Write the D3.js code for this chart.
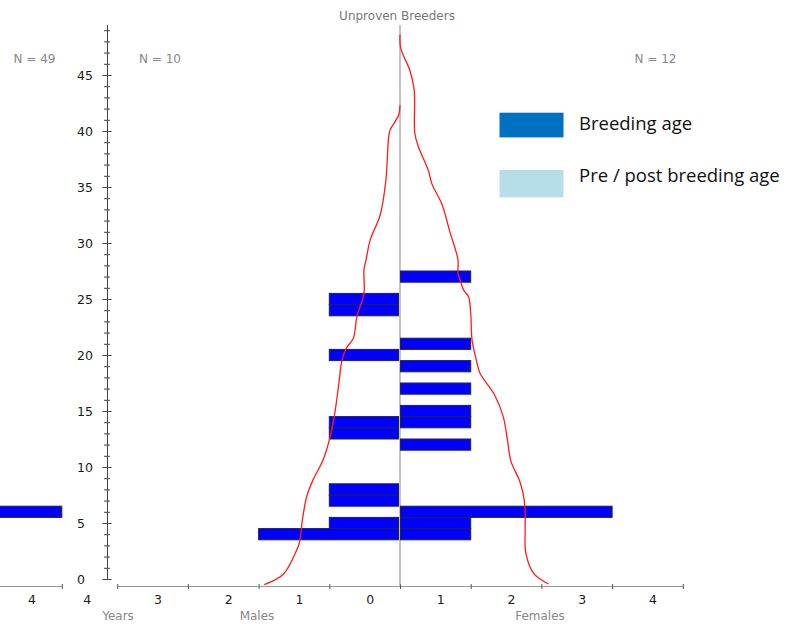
<!DOCTYPE html>
<html>
<head>
<meta charset="utf-8">
<script src="https://cdn.jsdelivr.net/npm/d3@7"></script>
<style>
body { margin: 0; background: #fff; }
svg text { font-family: "DejaVu Sans", Verdana, sans-serif; }
</style>
</head>
<body>
<svg></svg>
<script>
// bars: age (years) and number of animals of that age
var maleAges = [4, 5, 7, 8, 13, 14, 20, 24, 25];
var maleCounts = [2, 1, 1, 1, 1, 1, 1, 1, 1];
var femaleAges = [4, 5, 6, 12, 14, 15, 17, 19, 21, 27];
var femaleCounts = [1, 1, 3, 1, 1, 1, 1, 1, 1, 1];

// neighbouring panel on the left, only its female edge is in view
var prevFemaleAges = [6];
var prevFemaleCounts = [4];

// red reference curves (age, value)
var maleCurveAge = [-0.5, 0.42, 2.6, 3.3, 5.3, 7.35, 8.85, 10.6, 12.4, 14.5, 17.2, 19.55, 20.6, 21.5, 23.4, 25.5, 27.6, 28.5, 30.3, 32.5, 35.6, 39.5, 40.1, 41.4, 42.3];
var maleCurveValue = [1.92, 1.65, 1.46, 1.42, 1.38, 1.32, 1.23, 1.09, 1.0, 0.93, 0.87, 0.82, 0.76, 0.66, 0.61, 0.51, 0.51, 0.48, 0.42, 0.28, 0.2, 0.16, 0.14, 0.02, 0];
var femaleCurveAge = [48.6, 47.4, 45.4, 43.7, 39.8, 38.6, 36.5, 35.3, 33.5, 30.9, 28.5, 27.3, 26.7, 25.8, 25.2, 23.7, 21.3, 19.55, 18.4, 16.4, 14.5, 12.4, 10.5, 8.8, 7.65, 6.2, 4.4, 2.3, 0.5, -0.45];
var femaleCurveValue = [0, 0.01, 0.14, 0.2, 0.21, 0.26, 0.4, 0.45, 0.59, 0.71, 0.82, 0.82, 0.85, 0.9, 0.97, 1.0, 1.02, 1.08, 1.13, 1.34, 1.46, 1.52, 1.57, 1.69, 1.74, 1.77, 1.77, 1.78, 1.89, 2.1];

var yTicks = [0, 5, 10, 15, 20, 25, 30, 35, 40, 45];
var xTicks = [0, 1, 2, 3, 4];
var maleTickLabels = ["0", "1", "2", "3", "4"];
var femaleTickLabels = ["1", "2", "3", "4"];
var nLabels = ["N = 10", "N = 12"];
var prevNLabel = "N = 49";
var title = "Unproven Breeders";

var legendLabels = ["Breeding age", "Pre / post breeding age"];
var legendColors = ["#0070c0", "#b7dee8"];

var svgWidth = 796, svgHeight = 624;
var unit = 70.7;          // px per animal
var axisY = 586;
var mainCenter = 400, prevCenter = -221;

var svg = d3.select("svg")
    .attr("width", svgWidth)
    .attr("height", svgHeight);

var y = d3.scaleLinear()
    .domain([0, 49.5])
    .range([579, 24.6]);

function sideScale(cx, dir, n) {
    n = n || 4;
    return d3.scaleLinear()
        .domain([0, n])
        .range([cx, cx + dir * n * unit]);
}

var xMale = sideScale(mainCenter, -1);
var xFemale = sideScale(mainCenter, 1);
var xPrevFemale = sideScale(prevCenter, 1);

// x axes
function drawXAxis(scale) {
    var g = svg.append("g")
        .attr("transform", "translate(0," + axisY + ")")
        .call(d3.axisBottom(scale).tickValues(xTicks).tickFormat("").tickSize(3).tickSizeOuter(0));
    g.select(".domain").attr("stroke", "#999");
    g.selectAll(".tick line").attr("stroke", "#555").attr("y1", -2);
    return g;
}
drawXAxis(xMale);
drawXAxis(xFemale);
drawXAxis(xPrevFemale);

function drawTickLabels(scale, labels) {
    var pos = function(i) { return (scale(i) + scale(i + 1)) / 2 + 5.5; };
    svg.append("g").selectAll("text")
        .data(labels.filter(function(d, i) { return pos(i) > 8; }))
        .enter()
        .append("text")
        .attr("x", function(d) { return pos(labels.indexOf(d)); })
        .attr("y", 604)
        .attr("text-anchor", "middle")
        .attr("font-size", "12.5px")
        .attr("fill", "#1a1a1a")
        .text(function(d) { return d; });
}
drawTickLabels(sideScale(mainCenter, -1, 5), maleTickLabels);
drawTickLabels(xFemale, femaleTickLabels);
drawTickLabels(xPrevFemale, femaleTickLabels);

// axis titles
var axisTitles = [["Years", 118], ["Males", 257], ["Females", 540]];
svg.append("g").selectAll("text")
    .data(axisTitles)
    .enter()
    .append("text")
    .attr("x", function(d) { return d[1]; })
    .attr("y", 620)
    .attr("text-anchor", "middle")
    .attr("font-size", "12px")
    .attr("fill", "#888")
    .text(function(d) { return d[0]; });

// y axis
var yAxis = svg.append("g")
    .attr("transform", "translate(107,0)")
    .call(d3.axisLeft(y).tickValues(d3.range(0, 50)).tickSize(0).tickSizeOuter(0).tickFormat(""));
yAxis.select(".domain").attr("stroke", "#444");
yAxis.selectAll(".tick line")
    .attr("stroke", "#444")
    .attr("x1", function(d) { return d % 5 === 0 ? -4.5 : -3; })
    .attr("x2", function(d) { return d % 5 === 0 ? 4.5 : 3; });

svg.append("g").selectAll("text")
    .data(yTicks)
    .enter()
    .append("text")
    .attr("x", 77)
    .attr("y", function(d) { return y(d); })
    .attr("dy", "0.36em")
    .attr("font-size", "12.5px")
    .attr("fill", "#1a1a1a")
    .text(function(d) { return d; });

// centre line
svg.append("line")
    .attr("x1", mainCenter).attr("x2", mainCenter)
    .attr("y1", 25).attr("y2", axisY)
    .attr("stroke", "#888")
    .attr("stroke-width", 1);

// bars
function drawBars(ages, counts, scale, dir) {
    svg.append("g").selectAll("rect")
        .data(ages)
        .enter()
        .append("rect")
        .attr("x", function(d, i) {
            return dir < 0 ? scale(counts[i]) : scale(0) + 0.5;
        })
        .attr("y", function(d) { return y(d + 0.5); })
        .attr("width", function(d, i) {
            return dir < 0 ? scale(0) - 1.5 - scale(counts[i]) : scale(counts[i]) - scale(0) - 0.5;
        })
        .attr("height", function(d) { return y(d - 0.5) - y(d + 0.5); })
        .attr("fill", "#0000ff")
        .attr("stroke", "#22224a")
        .attr("stroke-width", 1);
}
drawBars(maleAges, maleCounts, xMale, -1);
drawBars(femaleAges, femaleCounts, xFemale, 1);
drawBars(prevFemaleAges, prevFemaleCounts, xPrevFemale, 1);

// red curves
function drawCurve(ages, values, scale) {
    var pts = ages.map(function(a, i) { return [a, values[i]]; });
    svg.append("path")
        .datum(pts)
        .attr("fill", "none")
        .attr("stroke", "#ff1a1a")
        .attr("stroke-width", 1.3)
        .attr("d", d3.line()
            .curve(d3.curveCatmullRom.alpha(0.5))
            .x(function(d) { return scale(d[1]); })
            .y(function(d) { return y(d[0]); }));
}
drawCurve(maleCurveAge, maleCurveValue, xMale);
drawCurve(femaleCurveAge, femaleCurveValue, xFemale);

// N labels
var nPos = [[mainCenter - 240, nLabels[0]], [mainCenter + 255.5, nLabels[1]], [prevCenter + 255.5, prevNLabel]];
svg.append("g").selectAll("text")
    .data(nPos)
    .enter()
    .append("text")
    .attr("x", function(d) { return d[0]; })
    .attr("y", 63)
    .attr("text-anchor", "middle")
    .attr("font-size", "12px")
    .attr("fill", "#888")
    .text(function(d) { return d[1]; });

// title, cut by the top edge
svg.append("text")
    .attr("x", 397)
    .attr("y", 20)
    .attr("text-anchor", "middle")
    .attr("font-size", "12px")
    .attr("fill", "#777")
    .text(title);

// legend
var legendRows = [[112.7, 24.7, 129.5], [170, 27.3, 182]];
var legend = svg.append("g");
legend.selectAll("rect")
    .data(legendColors)
    .enter()
    .append("rect")
    .attr("x", 499.5)
    .attr("y", function(d, i) { return legendRows[i][0]; })
    .attr("width", 64)
    .attr("height", function(d, i) { return legendRows[i][1]; })
    .attr("fill", function(d) { return d; });
legend.selectAll("text")
    .data(legendLabels)
    .enter()
    .append("text")
    .attr("x", 579)
    .attr("y", function(d, i) { return legendRows[i][2]; })
    .attr("font-size", "18.5px")
    .style("font-family", "'Open Sans', sans-serif")
    .attr("fill", "#111")
    .text(function(d) { return d; });
</script>
</body>
</html>
